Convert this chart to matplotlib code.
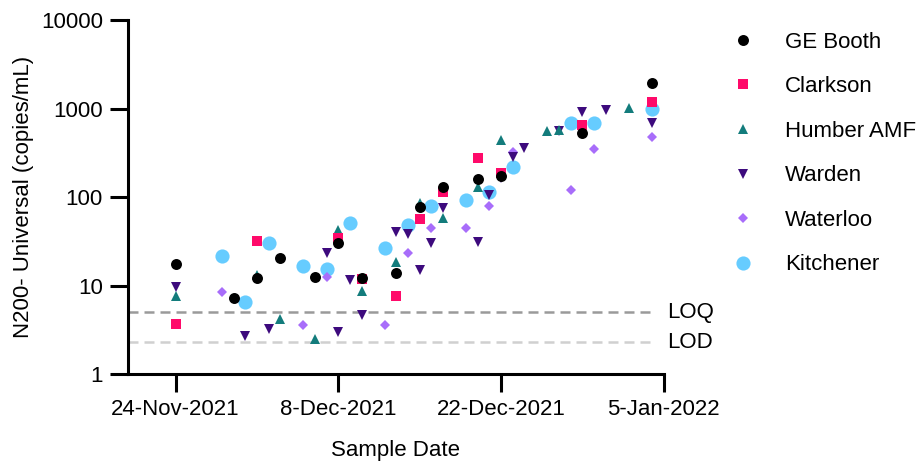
import datetime as dt

import matplotlib
matplotlib.use("Agg")
import matplotlib.dates as mdates
import matplotlib.pyplot as plt
from matplotlib.ticker import FixedLocator, FuncFormatter, NullLocator

plt.rcParams["font.family"] = ["Liberation Sans", "DejaVu Sans"]
plt.rcParams["font.size"] = 16

# --------------------------------------------------------------------------- #
# Data (copies/mL)
# --------------------------------------------------------------------------- #
booth_dates = ["2021-11-24", "2021-11-29", "2021-12-01", "2021-12-03", "2021-12-06",
               "2021-12-08", "2021-12-10", "2021-12-13", "2021-12-15", "2021-12-17",
               "2021-12-20", "2021-12-22", "2021-12-29", "2022-01-04"]
booth_vals = [17.4, 7.3, 12.1, 20.7, 12.6, 30.6, 12.3, 14.0, 78, 129, 159, 173, 533, 1950]

clarkson_dates = ["2021-11-24", "2021-12-01", "2021-12-08", "2021-12-10", "2021-12-13",
                  "2021-12-15", "2021-12-17", "2021-12-20", "2021-12-22", "2021-12-29",
                  "2022-01-04"]
clarkson_vals = [3.67, 32.2, 34.3, 11.9, 7.7, 56.6, 115, 274, 186, 651, 1175]

humber_dates = ["2021-11-24", "2021-12-01", "2021-12-03", "2021-12-06", "2021-12-08",
                "2021-12-10", "2021-12-13", "2021-12-15", "2021-12-17", "2021-12-20",
                "2021-12-22", "2021-12-26", "2021-12-27", "2022-01-02"]
humber_vals = [7.65, 13.2, 4.18, 2.48, 42.5, 8.8, 18.4, 86, 57.7, 129, 441, 557, 572, 1021]

warden_dates = ["2021-11-24", "2021-11-30", "2021-12-02", "2021-12-07", "2021-12-08",
                "2021-12-09", "2021-12-10", "2021-12-13", "2021-12-14", "2021-12-15",
                "2021-12-16", "2021-12-17", "2021-12-20", "2021-12-21", "2021-12-22",
                "2021-12-23", "2021-12-24", "2021-12-27", "2021-12-29", "2021-12-31",
                "2022-01-04"]
warden_vals = [9.7, 2.73, 3.22, 23.2, 2.98, 11.6, 4.67, 40, 38.3, 15.0, 30.5, 74.8,
               31.4, 106, 165, 286, 355, 560, 920, 962, 692]

waterloo_dates = ["2021-11-28", "2021-12-05", "2021-12-07", "2021-12-12", "2021-12-14",
                  "2021-12-16", "2021-12-19", "2021-12-21", "2021-12-23", "2021-12-28",
                  "2021-12-30", "2022-01-04"]
waterloo_vals = [8.5, 3.63, 12.6, 3.6, 23.2, 44.5, 44.5, 80, 325, 120, 346, 473]

kitchener_dates = ["2021-11-28", "2021-11-30", "2021-12-02", "2021-12-05", "2021-12-07",
                   "2021-12-09", "2021-12-12", "2021-12-14", "2021-12-16", "2021-12-19",
                   "2021-12-21", "2021-12-23", "2021-12-28", "2021-12-30", "2022-01-04"]
kitchener_vals = [21.8, 6.5, 30.1, 16.7, 15.3, 51, 26.4, 48.4, 80, 92.8, 115, 220,
                  681, 681, 987]

LOQ = 5.0
LOD = 2.3

tick_dates = ["2021-11-24", "2021-12-08", "2021-12-22", "2022-01-05"]
y_ticks = [1, 10, 100, 1000, 10000]


def _d(s):
    return dt.datetime.strptime(s, "%Y-%m-%d")


# name, dates, values, marker, size, colour  (legend order; drawn in reverse)
sites = [
    ("GE Booth", booth_dates, booth_vals, "o", 7.9, "#000000"),
    ("Clarkson", clarkson_dates, clarkson_vals, "s", 7.6, "#FF0A6A"),
    ("Humber AMF", humber_dates, humber_vals, "^", 7.8, "#137C7C"),
    ("Warden", warden_dates, warden_vals, "v", 7.8, "#3D0A7D"),
    ("Waterloo", waterloo_dates, waterloo_vals, "D", 5.0, "#A86DFA"),
    ("Kitchener", kitchener_dates, kitchener_vals, "o", 10.2, "#66CCFF"),
]

fig = plt.figure(figsize=(9.24, 4.66), dpi=100)
ax = fig.add_axes([0.1385, 0.197, 0.5797, 0.760])

handles = {}
for name, dates, vals, mk, ms, col in reversed(sites):
    h, = ax.plot([_d(s) for s in dates], vals, linestyle="none", marker=mk,
                 markersize=ms, color=col, markeredgewidth=0, clip_on=False)
    handles[name] = h

# Limit lines
x_left = _d("2021-11-24") - dt.timedelta(days=4.1)
x_right = _d("2022-01-05")
line_end = _d("2022-01-04") + dt.timedelta(hours=6)
ax.plot([x_left, line_end], [LOQ, LOQ], color="#9A9A9A", lw=1.8,
        dashes=(4.0, 2.4), zorder=0)
ax.plot([x_left, line_end], [LOD, LOD], color="#D0D0D0", lw=1.8,
        dashes=(4.0, 2.4), zorder=0)
ax.text(x_right + dt.timedelta(days=0.3), LOQ, "LOQ", va="center", ha="left")
ax.text(x_right + dt.timedelta(days=0.3), LOD, "LOD", va="center", ha="left")

ax.set_yscale("log")
ax.set_ylim(1, 10000)
ax.yaxis.set_major_locator(FixedLocator(y_ticks))
ax.yaxis.set_minor_locator(NullLocator())
ax.yaxis.set_major_formatter(FuncFormatter(lambda v, p: f"{v:g}"))

ax.set_xlim(x_left, x_right)
ax.xaxis.set_major_locator(FixedLocator([mdates.date2num(_d(s)) for s in tick_dates]))
ax.xaxis.set_minor_locator(NullLocator())
ax.xaxis.set_major_formatter(FuncFormatter(
    lambda v, p: (lambda d: f"{d.day}-{d:%b-%Y}")(mdates.num2date(v))))

for side in ("top", "right"):
    ax.spines[side].set_visible(False)
for side in ("left", "bottom"):
    ax.spines[side].set_linewidth(2.2)
ax.tick_params(axis="both", width=2.2, length=13, pad=5, labelsize=16)

ax.set_xlabel("Sample Date", labelpad=14)
ax.set_ylabel("N200- Universal (copies/mL)", labelpad=5)

fig.legend([handles[s[0]] for s in sites], [s[0] for s in sites],
           loc="upper left", bbox_to_anchor=(0.792, 0.932), frameon=False,
           borderpad=0, borderaxespad=0, handlelength=1.0, handletextpad=1.39,
           labelspacing=1.06, numpoints=1, fontsize=16)

fig.savefig("out.png", dpi=100)
